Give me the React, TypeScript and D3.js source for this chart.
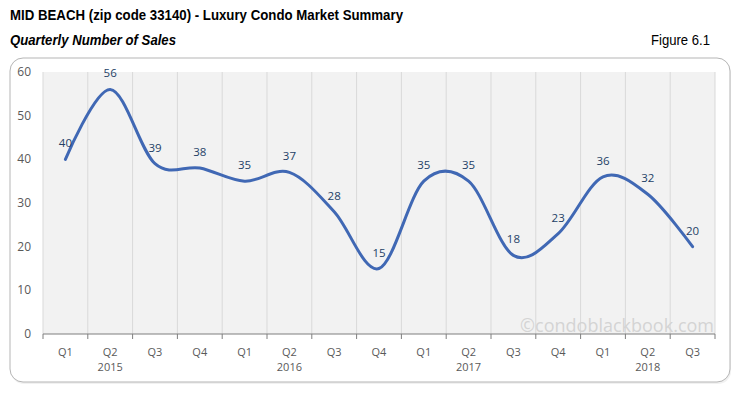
import React from "react";
import * as d3 from "d3";

// quarterly sales, Q1 2015 .. Q3 2018
const quarters = ["Q1", "Q2", "Q3", "Q4", "Q1", "Q2", "Q3", "Q4", "Q1", "Q2", "Q3", "Q4", "Q1", "Q2", "Q3"];
const years = ["2015", "2015", "2015", "2015", "2016", "2016", "2016", "2016", "2017", "2017", "2017", "2017", "2018", "2018", "2018"];
const sales = [40, 56, 39, 38, 35, 37, 28, 15, 35, 35, 18, 23, 36, 32, 20];
const yTicks = [0, 10, 20, 30, 40, 50, 60];

const W = 734;
const H = 393;
const plot = { left: 43, right: 715, top: 72, bottom: 334 };
const bodyFont = "'Open Sans', 'DejaVu Sans', sans-serif";
const titleFont = "'Liberation Sans Narrow', 'Arial Narrow', 'Liberation Sans', sans-serif";

export default function App() {
  const idx = d3.range(sales.length);
  const x = d3
    .scaleBand<number>()
    .domain(idx)
    .range([plot.left, plot.right]);
  const y = d3.scaleLinear().domain([0, 60]).range([plot.bottom, plot.top]);
  const cx = (i: number) => (x(i) as number) + x.bandwidth() / 2;

  const line = d3
    .line<number>()
    .x((d, i) => cx(i))
    .y((d) => y(d))
    .curve(d3.curveCardinal.tension(0));

  // boundaries between categories
  const bounds = d3.range(sales.length + 1).map((i) => plot.left + i * x.bandwidth());

  // year label sits under the 2nd quarter of each year
  const yearLabels = idx.filter((i) => quarters[i] === "Q2");

  return (
    <svg width={W} height={H} style={{ position: "absolute", left: 0, top: 0, background: "#fff" }}>
      <text x={10} y={20} fontFamily={titleFont} fontSize={14.5} fontWeight="bold" fill="#000" textLength={393} lengthAdjust="spacingAndGlyphs">
        MID BEACH (zip code 33140) - Luxury Condo Market Summary
      </text>
      <text x={10} y={45} fontFamily={titleFont} fontSize={14.5} fontWeight="bold" fontStyle="italic" fill="#000" textLength={166} lengthAdjust="spacingAndGlyphs">
        Quarterly Number of Sales
      </text>
      <text x={710} y={45} fontFamily={titleFont} fontSize={14.5} textAnchor="end" fill="#000" textLength={59} lengthAdjust="spacingAndGlyphs">
        Figure 6.1
      </text>

      <rect x={11} y={60} width={720} height={324} rx={13} fill="#e8e8e8" opacity={0.6} />
      <rect x={10} y={58} width={720} height={324} rx={13} fill="#fff" stroke="#b5b5b5" strokeWidth={1} />

      <rect x={plot.left} y={plot.top} width={plot.right - plot.left} height={plot.bottom - plot.top} fill="#f2f2f2" />
      {bounds.map((b, i) => (
        <line key={"g" + i} x1={b} x2={b} y1={plot.top} y2={plot.bottom} stroke="#d9d9d9" strokeWidth={1} />
      ))}

      <text
        x={714}
        y={332}
        textAnchor="end"
        fontFamily={bodyFont}
        fontSize={18}
        fill="#d4d4d4"
      >
        ©condoblackbook.com
      </text>

      {yTicks.map((t) => (
        <text key={t} x={31} y={y(t) + 4} textAnchor="end" fontFamily={bodyFont} fontSize={12} fill="#595959">
          {t}
        </text>
      ))}

      <line x1={plot.left} x2={plot.right} y1={plot.bottom} y2={plot.bottom} stroke="#7f7f7f" strokeWidth={1} />
      {bounds.map((b, i) => (
        <line key={"t" + i} x1={b} x2={b} y1={plot.bottom} y2={plot.bottom + 5} stroke="#7f7f7f" strokeWidth={1} />
      ))}
      {idx.map((i) => (
        <text key={"q" + i} x={cx(i)} y={356} textAnchor="middle" fontFamily={bodyFont} fontSize={11} fill="#595959">
          {quarters[i]}
        </text>
      ))}
      {yearLabels.map((i) => (
        <text key={"y" + i} x={cx(i)} y={371} textAnchor="middle" fontFamily={bodyFont} fontSize={11} fill="#595959">
          {years[i]}
        </text>
      ))}

      <path d={line(sales) || ""} fill="none" stroke="#4068b4" strokeWidth={3} strokeLinecap="round" />

      {sales.map((v, i) => (
        <text key={"l" + i} x={cx(i)} y={y(v) - 12} textAnchor="middle" fontFamily={bodyFont} fontSize={11.5} fill="#243f66">
          {v}
        </text>
      ))}
    </svg>
  );
}
